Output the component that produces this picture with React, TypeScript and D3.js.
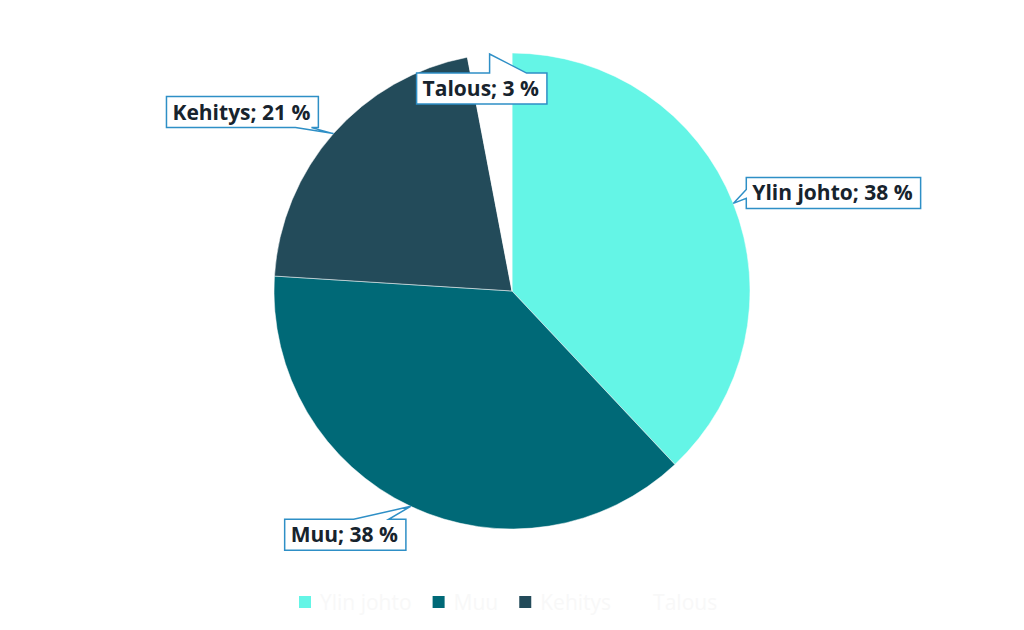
import React from "react";
import * as d3 from "d3";

const categories = ["Ylin johto", "Muu", "Kehitys", "Talous"];
const values = [38, 38, 21, 3];
const colors = ["#64F5E6", "#006977", "#234B5A", "#FFFFFF"];

// label box layout (relative to the slice edge point)
const labelLayout: Record<string, { side: string; bx: number; by: number; b1: number; b2: number }> = {
  "Ylin johto": { side: "left", bx: 13, by: -26, b1: 12, b2: 21 },
  Muu: { side: "top", bx: -126, by: 13, b1: 69, b2: 104 },
  Kehitys: { side: "bottom", bx: -167, by: -37, b1: 129, b2: 145 },
  Talous: { side: "top", bx: -73, by: 19, b1: 73, b2: 110 },
};

const W = 1024;
const H = 630;
const cx = 512;
const cy = 291;
const R = 238;
const FONT = "bold 21px 'Open Sans'";
const LFONT = "21px 'Open Sans'";

function measure(text: string, font: string) {
  const c = document.createElement("canvas").getContext("2d")!;
  c.font = font;
  return c.measureText(text).width;
}

function callout(x: number, y: number, w: number, h: number, side: string, b1: number, b2: number, ax: number, ay: number) {
  const p = d3.path();
  p.moveTo(x, y);
  if (side === "top") {
    p.lineTo(x + b1, y);
    p.lineTo(ax, ay);
    p.lineTo(x + b2, y);
  }
  p.lineTo(x + w, y);
  p.lineTo(x + w, y + h);
  if (side === "bottom") {
    p.lineTo(x + b2, y + h);
    p.lineTo(ax, ay);
    p.lineTo(x + b1, y + h);
  }
  p.lineTo(x, y + h);
  if (side === "left") {
    p.lineTo(x, y + b2);
    p.lineTo(ax, ay);
    p.lineTo(x, y + b1);
  }
  p.closePath();
  return p.toString();
}

export default function App() {
  const data = categories.map((c, i) => ({ c, v: values[i], col: colors[i] }));
  const pie = d3.pie<any>().value((d) => d.v).sort(null);
  const arcs = pie(data);
  const arc = d3.arc<any>().innerRadius(0).outerRadius(R);

  const labels = arcs.map((a) => {
    const mid = (a.startAngle + a.endAngle) / 2;
    const ax = cx + R * Math.sin(mid);
    const ay = cy - R * Math.cos(mid);
    const text = `${a.data.c}; ${a.data.v} %`;
    const tw = measure(text, FONT);
    const w = tw + 14;
    const h = 31;
    const L = labelLayout[a.data.c];
    const x = ax + L.bx;
    const y = ay + L.by;
    return { text, x, y, w, h, path: callout(x, y, w, h, L.side, L.b1, L.b2, ax, ay) };
  });

  // legend
  let lx = 299;
  const legend = data.map((d) => {
    const tw = measure(d.c, LFONT);
    const item = { x: lx, ...d };
    lx += 12 + 9 + tw + 21;
    return item;
  });

  return (
    <svg width={W} height={H} style={{ position: "absolute", left: 0, top: 0, background: "#fff" }}>
      <g transform={`translate(${cx},${cy})`}>
        {arcs.map((a, i) => (
          <path key={i} d={arc(a)!} fill={a.data.col} stroke="#fff" strokeWidth={0.5} />
        ))}
      </g>
      {labels.map((l, i) => (
        <g key={i}>
          <path d={l.path} fill="#fff" stroke="#2E8FC6" strokeWidth={1.5} strokeLinejoin="miter" />
          <text x={l.x + 6} y={l.y + l.h / 2 + 7.5} style={{ font: FONT }} fill="#17232D">
            {l.text}
          </text>
        </g>
      ))}
      {legend.map((d, i) => (
        <g key={i}>
          <rect x={d.x} y={596} width={12} height={12} fill={d.col} />
          <text x={d.x + 21} y={610} style={{ font: LFONT }} fill="#F8F8F8">
            {d.c}
          </text>
        </g>
      ))}
    </svg>
  );
}
